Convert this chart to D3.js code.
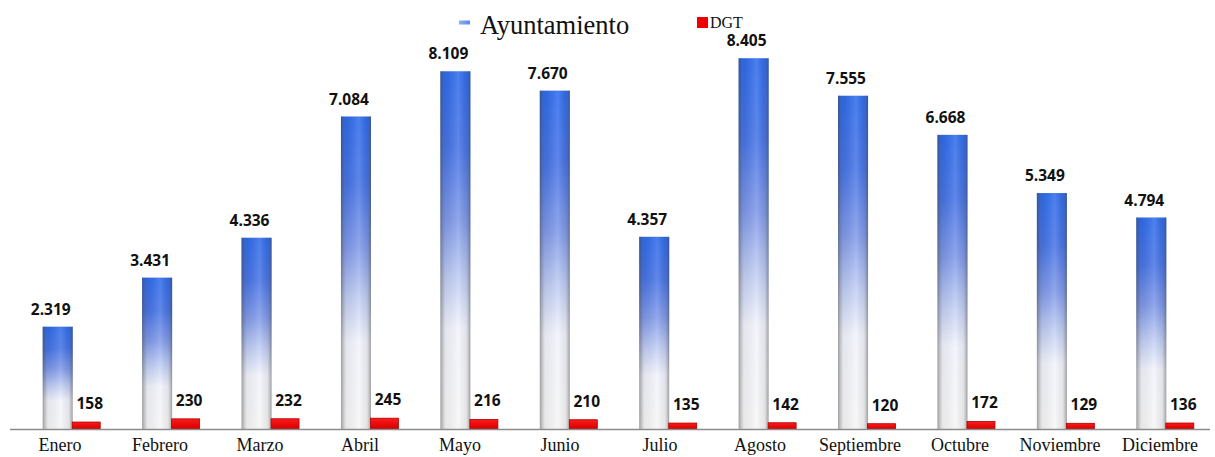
<html lang="es">
    <head>
        <title>Ayuntamiento / DGT</title>
        <meta charset="utf-8">
        <style>
            body {margin: 0; background: white;}
            svg {background: white; display: block;}
            .valor {font-family: "Open Sans", sans-serif; font-weight: bold; font-size: 15.5px; fill: #111;}
            .mes {font-family: "Liberation Serif", "Times New Roman", serif; font-size: 18px; fill: #111;}
            .leyenda {font-family: "Liberation Serif", "Times New Roman", serif; fill: #111;}
        </style>
    </head>
    <body>
        <div id="chart"></div>
        <script src="https://d3js.org/d3.v7.min.js"></script>
        <script>
            var meses = ["Enero", "Febrero", "Marzo", "Abril", "Mayo", "Junio", "Julio", "Agosto", "Septiembre", "Octubre", "Noviembre", "Diciembre"];
            var ayuntamiento = [2319, 3431, 4336, 7084, 8109, 7670, 4357, 8405, 7555, 6668, 5349, 4794];
            var dgt = [158, 230, 232, 245, 216, 210, 135, 142, 120, 172, 129, 136];
            var series = ["Ayuntamiento", "DGT"];

            var width = 1215, height = 457;

            var svg = d3.select("#chart")
                .append("svg")
                .attr("width", width)
                .attr("height", height);

            // gradients for the blue "cylinder" bars
            var defs = svg.append("defs");
            var vgrad = defs.append("linearGradient")
                .attr("id", "azul")
                .attr("x1", 0).attr("y1", 0).attr("x2", 0).attr("y2", 1);
            vgrad.append("stop").attr("offset", "0%").attr("stop-color", "#1f60ea");
            vgrad.append("stop").attr("offset", "22%").attr("stop-color", "#3a6ae4");
            vgrad.append("stop").attr("offset", "42%").attr("stop-color", "#7893e8");
            vgrad.append("stop").attr("offset", "58%").attr("stop-color", "#bccaf3");
            vgrad.append("stop").attr("offset", "72%").attr("stop-color", "#f1f3fc");
            vgrad.append("stop").attr("offset", "100%").attr("stop-color", "#f6f6f6");

            var hgrad = defs.append("linearGradient")
                .attr("id", "sombra")
                .attr("x1", 0).attr("y1", 0).attr("x2", 1).attr("y2", 0);
            hgrad.append("stop").attr("offset", "0%").attr("stop-color", "#444").attr("stop-opacity", 0.5);
            hgrad.append("stop").attr("offset", "18%").attr("stop-color", "#888").attr("stop-opacity", 0.12);
            hgrad.append("stop").attr("offset", "60%").attr("stop-color", "#fff").attr("stop-opacity", 0.2);
            hgrad.append("stop").attr("offset", "86%").attr("stop-color", "#888").attr("stop-opacity", 0.15);
            hgrad.append("stop").attr("offset", "100%").attr("stop-color", "#444").attr("stop-opacity", 0.5);

            var rgrad = defs.append("linearGradient")
                .attr("id", "rojo")
                .attr("x1", 0).attr("y1", 0).attr("x2", 0).attr("y2", 1);
            rgrad.append("stop").attr("offset", "0%").attr("stop-color", "#ff1a1a");
            rgrad.append("stop").attr("offset", "100%").attr("stop-color", "#d40000");

            var legGrad = defs.append("linearGradient")
                .attr("id", "leyenda")
                .attr("x1", 0).attr("y1", 0).attr("x2", 1).attr("y2", 0);
            legGrad.append("stop").attr("offset", "0%").attr("stop-color", "#8fb0f5");
            legGrad.append("stop").attr("offset", "100%").attr("stop-color", "#5b86ec");

            var es = d3.formatLocale({decimal: ",", thousands: ".", grouping: [3], currency: ["", " €"]});
            var fmt = es.format(",d");

            var x = d3.scaleBand()
                .domain(meses)
                .range([22, 1215]);

            var xLabel = d3.scaleBand()
                .domain(meses)
                .range([10, 1210]);

            var y = d3.scaleLinear()
                .domain([0, 9000])
                .range([429, 32]);

            var barW = 30;

            var grupos = svg.selectAll(".mes-grupo")
                .data(meses)
                .enter().append("g")
                .attr("class", "mes-grupo")
                .attr("transform", function(d) { return "translate(" + (x(d) + x.bandwidth() / 2) + ",0)"; });

            // Ayuntamiento
            grupos.append("rect")
                .attr("x", -barW + 1)
                .attr("width", barW)
                .attr("y", function(d, i) { return y(ayuntamiento[i]); })
                .attr("height", function(d, i) { return y(0) - y(ayuntamiento[i]); })
                .style("fill", "url(#azul)");
            grupos.append("rect")
                .attr("x", -barW + 1)
                .attr("width", barW)
                .attr("y", function(d, i) { return y(ayuntamiento[i]); })
                .attr("height", function(d, i) { return y(0) - y(ayuntamiento[i]); })
                .style("fill", "url(#sombra)");

            // DGT
            grupos.append("rect")
                .attr("x", 0.5)
                .attr("width", barW - 2)
                .attr("y", function(d, i) { return y(dgt[i]); })
                .attr("height", function(d, i) { return y(0) - y(dgt[i]); })
                .style("fill", "url(#rojo)")
                .style("stroke", "#b00000")
                .style("stroke-width", 0.8);

            grupos.append("text")
                .attr("class", "valor")
                .attr("x", -barW / 2 - 6)
                .attr("y", function(d, i) { return y(ayuntamiento[i]) - 12; })
                .attr("text-anchor", "middle")
                .text(function(d, i) { return fmt(ayuntamiento[i]); });

            grupos.append("text")
                .attr("class", "valor")
                .attr("x", barW / 2 + 3)
                .attr("y", function(d, i) { return y(dgt[i]) - 13; })
                .attr("text-anchor", "middle")
                .text(function(d, i) { return fmt(dgt[i]); });

            // axis line and month labels
            svg.append("line")
                .attr("x1", 10).attr("x2", 1210)
                .attr("y1", y(0) + 0.5).attr("y2", y(0) + 0.5)
                .style("stroke", "#8c8c8c")
                .style("stroke-width", 1.5);

            svg.selectAll(".mes")
                .data(meses)
                .enter().append("text")
                .attr("class", "mes")
                .attr("x", function(d) { return xLabel(d) + xLabel.bandwidth() / 2; })
                .attr("y", 451)
                .attr("text-anchor", "middle")
                .text(function(d) { return d; });

            // legend
            var leg = svg.append("g");
            leg.append("rect")
                .attr("x", 459).attr("y", 20.5)
                .attr("width", 11).attr("height", 4)
                .style("fill", "url(#leyenda)");
            leg.append("text")
                .attr("class", "leyenda")
                .attr("x", 480).attr("y", 34)
                .style("font-size", "26.5px")
                .text(series[0]);
            leg.append("rect")
                .attr("x", 697).attr("y", 17)
                .attr("width", 11).attr("height", 11)
                .style("fill", "#ee0000");
            leg.append("text")
                .attr("class", "leyenda")
                .attr("x", 710).attr("y", 28)
                .style("font-size", "16px")
                .text(series[1]);
        </script>
    </body>
</html>
